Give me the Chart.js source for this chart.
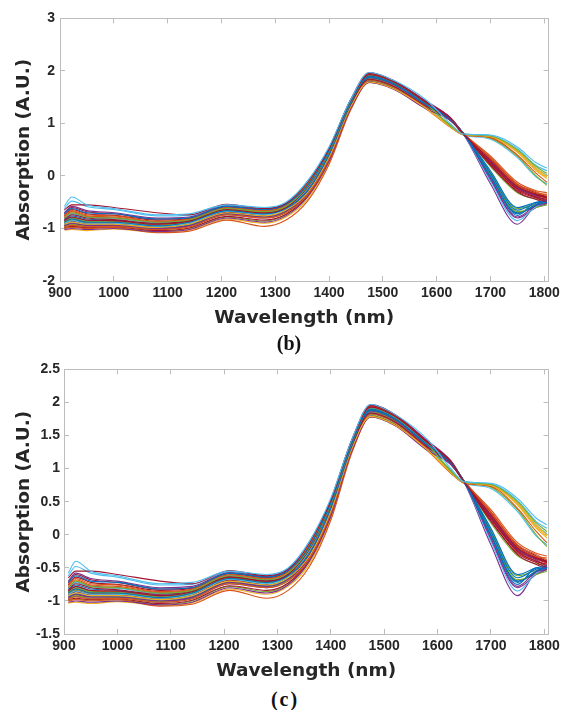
<!DOCTYPE html>
<html>
<head>
<meta charset="utf-8">
<script src="https://cdn.jsdelivr.net/npm/chart.js@4.4.1/dist/chart.umd.min.js"></script>
<style>
  body { margin: 0; background: #fff; width: 569px; height: 710px; position: relative; overflow: hidden; }
  .panel { position: absolute; left: 0; width: 569px; height: 335px; }
  .cap { position: absolute; width: 60px; text-align: center; line-height: 24px;
         font: bold 20px "Liberation Serif", "Times New Roman", serif; color: #111; }
</style>
</head>
<body>
<div class="panel" style="top:0"><canvas id="chartB" width="569" height="335"></canvas></div>
<div class="cap" style="left:259px; top:332px">(b)</div>
<div class="panel" style="top:352px"><canvas id="chartC" width="569" height="335"></canvas></div>
<div class="cap" style="left:255px; top:688px; letter-spacing:2px">(c)</div>
<script>
const wl = [908, 922, 950, 1000, 1080, 1140, 1210, 1280, 1320, 1360, 1400, 1440, 1475, 1520, 1580, 1625, 1650, 1700, 1750, 1785, 1805];

// absorption spectra (A.U.)
const s01 = [-0.58,-0.40,-0.55,-0.62,-0.74,-0.72,-0.55,-0.60,-0.50,-0.10,0.55,1.45,1.97,1.82,1.45,1.00,0.80,0.78,0.55,0.25,0.15];
const s02 = [-0.65,-0.55,-0.55,-0.60,-0.70,-0.74,-0.54,-0.62,-0.52,-0.12,0.52,1.44,1.93,1.79,1.40,1.10,0.80,0.30,-0.20,-0.35,-0.42];
const s03 = [-0.72,-0.62,-0.70,-0.72,-0.82,-0.80,-0.58,-0.64,-0.54,-0.18,0.48,1.40,1.90,1.76,1.37,1.08,0.81,0.05,-0.65,-0.52,-0.50];
const s04 = [-0.80,-0.70,-0.78,-0.80,-0.88,-0.84,-0.62,-0.68,-0.58,-0.20,0.46,1.39,1.92,1.78,1.38,0.96,0.80,0.76,0.50,0.18,0.05];
const s05 = [-0.85,-0.78,-0.84,-0.85,-0.92,-0.86,-0.64,-0.70,-0.60,-0.22,0.45,1.37,1.84,1.71,1.33,1.08,0.79,0.25,-0.25,-0.40,-0.45];
const s06 = [-0.88,-0.82,-0.88,-0.88,-0.95,-0.88,-0.66,-0.72,-0.62,-0.28,0.40,1.35,1.88,1.75,1.36,1.09,0.80,0.00,-0.72,-0.55,-0.50];
const s07 = [-0.92,-0.88,-0.92,-0.92,-0.98,-0.92,-0.70,-0.76,-0.65,-0.32,0.36,1.32,1.79,1.66,1.29,0.94,0.79,0.75,0.45,0.10,-0.05];
const s08 = [-0.97,-0.94,-0.97,-0.96,-1.02,-0.97,-0.74,-0.80,-0.70,-0.36,0.32,1.30,1.83,1.70,1.32,1.10,0.81,0.35,-0.15,-0.30,-0.38];
const s09 = [-1.02,-1.00,-1.02,-1.00,-1.06,-1.02,-0.80,-0.88,-0.76,-0.40,0.28,1.28,1.78,1.65,1.28,1.06,0.80,-0.05,-0.78,-0.56,-0.52];
const s10 = [-1.00,-0.98,-1.00,-0.98,-1.08,-1.05,-0.84,-0.96,-0.84,-0.48,0.22,1.25,1.78,1.66,1.28,0.93,0.78,0.73,0.40,0.05,-0.12];
const s11 = [-0.83,-0.74,-0.80,-0.83,-0.90,-0.85,-0.63,-0.70,-0.60,-0.20,0.47,1.40,1.96,1.81,1.41,1.11,0.80,0.20,-0.28,-0.42,-0.50];
const s12 = [-0.90,-0.85,-0.90,-0.90,-0.96,-0.90,-0.67,-0.74,-0.63,-0.24,0.44,1.37,1.92,1.78,1.38,1.09,0.80,-0.10,-0.85,-0.58,-0.50];
const s13 = [-0.75,-0.66,-0.74,-0.76,-0.86,-0.82,-0.60,-0.66,-0.56,-0.14,0.50,1.42,1.93,1.79,1.39,1.10,0.80,0.32,-0.18,-0.33,-0.35];
const s14 = [-0.95,-0.90,-0.94,-0.94,-1.00,-0.95,-0.72,-0.78,-0.67,-0.34,0.34,1.31,1.87,1.74,1.35,1.07,0.79,-0.15,-0.92,-0.55,-0.48];
const s15 = [-0.86,-0.80,-0.86,-0.87,-0.94,-0.87,-0.65,-0.71,-0.61,-0.22,0.45,1.38,1.87,1.74,1.36,0.97,0.80,0.72,0.38,0.00,-0.18];
const s16 = [-0.70,-0.58,-0.66,-0.70,-0.80,-0.78,-0.57,-0.63,-0.53,-0.12,0.53,1.45,1.97,1.82,1.43,1.12,0.81,0.28,-0.22,-0.38,-0.48];
const s17 = [-0.93,-0.89,-0.93,-0.93,-0.99,-0.93,-0.71,-0.77,-0.66,-0.33,0.35,1.31,1.83,1.70,1.32,1.08,0.80,0.10,-0.60,-0.50,-0.47];
const s18 = [-0.82,-0.72,-0.79,-0.81,-0.89,-0.85,-0.62,-0.69,-0.59,-0.20,0.46,1.38,1.84,1.71,1.33,0.98,0.81,0.77,0.52,0.20,0.10];
const s19 = [-0.98,-0.96,-0.98,-0.97,-1.04,-0.99,-0.77,-0.84,-0.73,-0.38,0.30,1.29,1.79,1.66,1.29,1.06,0.79,0.22,-0.30,-0.45,-0.52];
const s20 = [-0.88,-0.83,-0.87,-0.88,-0.95,-0.89,-0.66,-0.73,-0.62,-0.23,0.44,1.37,1.91,1.77,1.37,1.09,0.80,0.02,-0.68,-0.60,-0.55];
const s21 = [-0.78,-0.68,-0.76,-0.78,-0.87,-0.83,-0.61,-0.67,-0.57,-0.15,0.50,1.41,1.89,1.75,1.37,1.10,0.81,0.38,-0.12,-0.28,-0.32];
const s22 = [-1.03,-1.02,-1.04,-1.01,-1.07,-1.03,-0.82,-0.90,-0.78,-0.44,0.25,1.27,1.82,1.69,1.31,0.95,0.79,0.74,0.46,0.12,-0.02];
const s23 = [-0.84,-0.76,-0.82,-0.84,-0.91,-0.86,-0.64,-0.70,-0.60,-0.21,0.45,1.37,1.80,1.67,1.30,1.07,0.80,-0.02,-0.75,-0.50,-0.52];
const s24 = [-0.91,-0.86,-0.91,-0.91,-0.97,-0.91,-0.69,-0.75,-0.64,-0.30,0.38,1.34,1.95,1.80,1.41,1.11,0.80,0.26,-0.24,-0.36,-0.40];
const s25 = [-0.62,-0.48,-0.58,-0.64,-0.76,-0.75,-0.56,-0.61,-0.51,-0.10,0.54,1.45,1.92,1.78,1.38,0.94,0.78,0.70,0.35,-0.02,-0.15];
const s26 = [-0.96,-0.92,-0.96,-0.95,-1.01,-0.96,-0.73,-0.79,-0.69,-0.35,0.33,1.30,1.86,1.73,1.35,1.08,0.80,0.08,-0.62,-0.54,-0.50];
const s27 = [-0.87,-0.81,-0.86,-0.86,-0.93,-0.87,-0.65,-0.71,-0.61,-0.22,0.45,1.38,1.96,1.81,1.42,1.10,0.80,0.30,-0.20,-0.40,-0.44];
const s28 = [-0.80,-0.72,-0.78,-0.80,-0.88,-0.84,-0.62,-0.68,-0.58,-0.19,0.46,1.38,1.83,1.70,1.32,1.07,0.80,-0.08,-0.80,-0.60,-0.53];
const s29 = [-0.76,-0.64,-0.72,-0.75,-0.84,-0.81,-0.59,-0.65,-0.55,-0.16,0.49,1.41,1.91,1.77,1.38,1.10,0.80,0.28,-0.22,-0.36,-0.42];
const s30 = [-0.89,-0.84,-0.89,-0.89,-0.96,-0.89,-0.67,-0.73,-0.62,-0.26,0.42,1.36,1.86,1.73,1.35,1.09,0.80,0.24,-0.26,-0.40,-0.47];
const s31 = [-0.81,-0.70,-0.77,-0.80,-0.88,-0.84,-0.62,-0.68,-0.58,-0.19,0.46,1.39,1.90,1.76,1.37,0.97,0.80,0.75,0.48,0.15,0.00];
const s32 = [-0.94,-0.91,-0.94,-0.93,-1.00,-0.94,-0.72,-0.78,-0.67,-0.34,0.34,1.31,1.85,1.72,1.34,1.09,0.80,0.30,-0.18,-0.34,-0.40];
const s33 = [-0.85,-0.79,-0.85,-0.86,-0.93,-0.87,-0.65,-0.71,-0.61,-0.22,0.45,1.38,1.89,1.75,1.36,1.08,0.80,0.05,-0.70,-0.55,-0.50];
const s34 = [-0.99,-0.97,-0.99,-0.98,-1.05,-1.00,-0.78,-0.86,-0.74,-0.40,0.29,1.28,1.81,1.68,1.30,1.07,0.80,0.18,-0.32,-0.44,-0.46];
const s35 = [-0.73,-0.60,-0.68,-0.72,-0.82,-0.80,-0.58,-0.64,-0.54,-0.14,0.51,1.43,1.94,1.80,1.40,1.11,0.81,0.34,-0.16,-0.32,-0.40];
const s36 = [-0.90,-0.86,-0.90,-0.90,-0.97,-0.90,-0.68,-0.74,-0.63,-0.27,0.41,1.35,1.85,1.72,1.34,0.96,0.79,0.76,0.47,0.14,0.02];
const s37 = [-0.87,-0.82,-0.87,-0.87,-0.94,-0.88,-0.66,-0.72,-0.62,-0.24,0.44,1.37,1.90,1.76,1.37,1.10,0.80,0.27,-0.21,-0.37,-0.43];
const s38 = [-0.96,-0.93,-0.96,-0.95,-1.02,-0.96,-0.74,-0.80,-0.69,-0.36,0.33,1.30,1.84,1.71,1.33,1.08,0.80,0.00,-0.70,-0.58,-0.52];
const spectra = [s01,s02,s03,s04,s05,s06,s07,s08,s09,s10,s11,s12,s13,s14,s15,s16,s17,s18,s19,
                 s20,s21,s22,s23,s24,s25,s26,s27,s28,s29,s30,s31,s32,s33,s34,s35,s36,s37,s38];

// matlab-ish line colours, one per spectrum
const lineColors = ['#4DBEEE','#A2142F','#0072BD','#77AC30','#A2142F','#0072BD','#EDB120',
                    '#D95319','#7E2F8E','#D95319','#A2142F','#4DBEEE','#D95319','#7E2F8E',
                    '#77AC30','#7E2F8E','#0072BD','#4DBEEE','#A2142F','#77AC30','#D95319',
                    '#EDB120','#0072BD','#A2142F','#4DBEEE','#77AC30','#D95319','#7E2F8E',
                    '#A2142F','#D95319','#EDB120','#A2142F','#0072BD','#77AC30','#A2142F',
                    '#4DBEEE','#D95319','#7E2F8E'];

// axis ranges and tick labels
const xMin = 900, xMax = 1808;
const xTicks = [900, 1000, 1100, 1200, 1300, 1400, 1500, 1600, 1700, 1800];
const yTicksB = [-2, -1, 0, 1, 2, 3];
const yTicksC = [-1.5, -1, -0.5, 0, 0.5, 1, 1.5, 2, 2.5];

const AXIS = '#bdbdbd';
const TEXT = '#262626';
const tickFont = { family: 'Liberation Sans, Arial, sans-serif', size: 14, weight: 'bold' };
const titleFont = { family: 'DejaVu Sans, sans-serif', size: 18.5, weight: 'bold' };

function makeDatasets() {
    return spectra.map((s, i) => ({
        data: s.map((v, j) => ({ x: wl[j], y: v })),
        borderColor: lineColors[i],
        borderWidth: 1.1,
        pointRadius: 0,
        fill: false,
        cubicInterpolationMode: 'monotone'
    }));
}

function createChart(canvasId, yTicks, yAxisWidth, xAxisHeight, yLabelPad, xLabelPad, xTitlePad) {
    const grid = { display: true, drawOnChartArea: false, drawTicks: true, tickLength: -5, color: AXIS };
    const border = { display: true, color: AXIS, width: 1 };
    const setTicks = list => s => { s.ticks = list.map(v => ({ value: v })); };
    const yMin = yTicks[0], yMax = yTicks[yTicks.length - 1];
    new Chart(document.getElementById(canvasId), {
        type: 'line',
        data: { datasets: makeDatasets() },
        options: {
            responsive: false,
            animation: false,
            devicePixelRatio: 1,
            layout: { padding: 0 },
            plugins: { legend: { display: false }, tooltip: { enabled: false } },
            scales: {
                x: {
                    type: 'linear', position: 'bottom', min: xMin, max: xMax,
                    grid: grid, border: border,
                    afterBuildTicks: setTicks(xTicks),
                    ticks: { maxRotation: 0, autoSkip: false, padding: xLabelPad, color: TEXT, font: tickFont,
                             callback: v => String(v) },
                    title: { display: true, text: 'Wavelength (nm)', color: TEXT, font: titleFont,
                             padding: { top: 0, bottom: xTitlePad } },
                    afterFit: s => { s.height = xAxisHeight; }
                },
                x2: {
                    type: 'linear', position: 'top', min: xMin, max: xMax,
                    grid: grid, border: border,
                    afterBuildTicks: setTicks(xTicks),
                    ticks: { display: false },
                    afterFit: s => { s.height = 13; }
                },
                y: {
                    type: 'linear', position: 'left', min: yMin, max: yMax,
                    grid: grid, border: border,
                    afterBuildTicks: setTicks(yTicks),
                    ticks: { padding: yLabelPad, color: TEXT, font: tickFont, autoSkip: false,
                             callback: v => String(v) },
                    title: { display: true, text: 'Absorption (A.U.)', color: TEXT, font: titleFont,
                             padding: { top: 13, bottom: 0 } },
                    afterFit: s => { s.width = yAxisWidth; }
                },
                y2: {
                    type: 'linear', position: 'right', min: yMin, max: yMax,
                    grid: grid, border: border,
                    afterBuildTicks: setTicks(yTicks),
                    ticks: { display: false },
                    afterFit: s => { s.width = 16; }
                }
            }
        }
    });
}

createChart('chartB', yTicksB, 60, 54, 10, 9, 6);
createChart('chartC', yTicksC, 64, 53, 9, 9, 5);
</script>
</body>
</html>
